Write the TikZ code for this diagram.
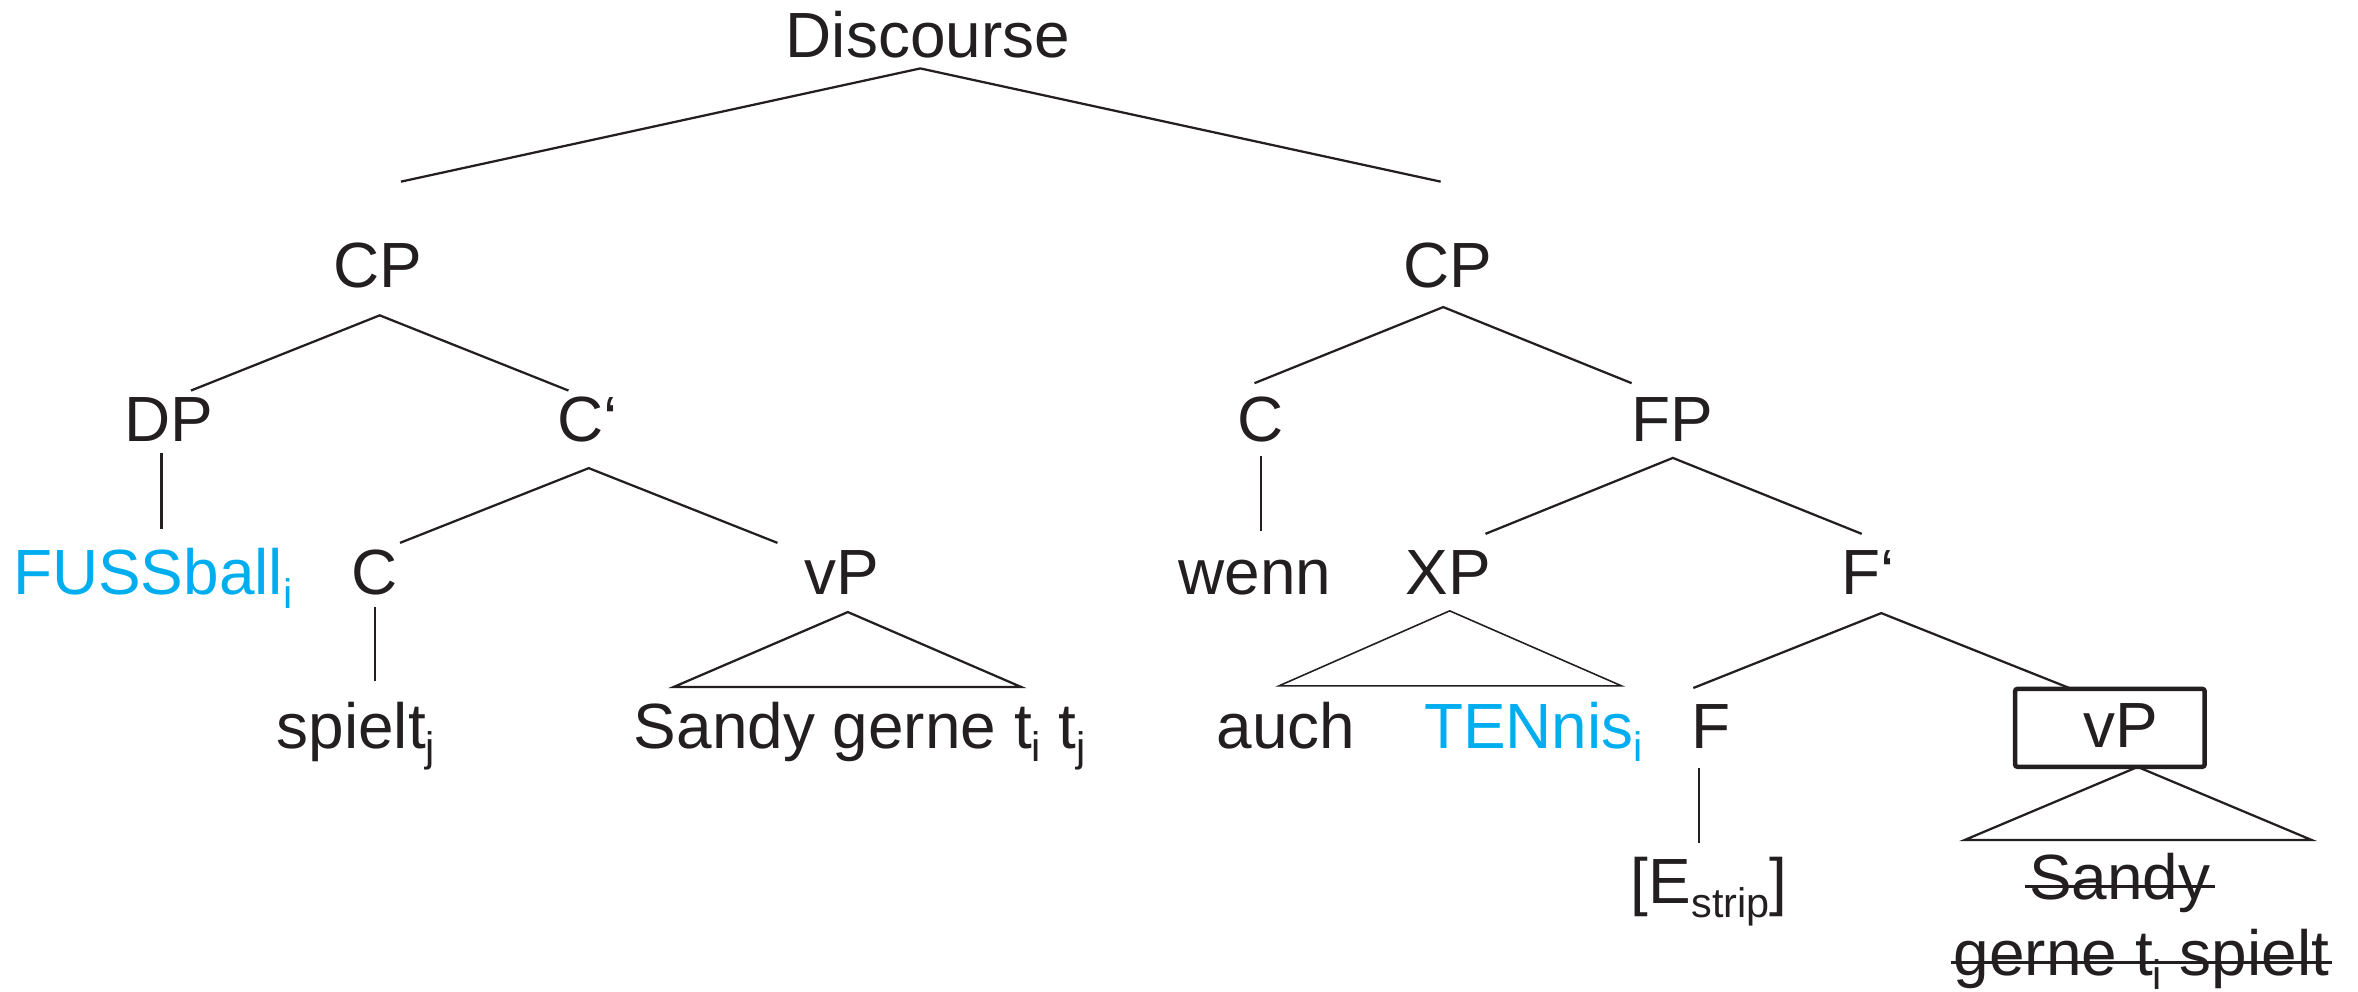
\documentclass[tikz,border=0pt]{standalone}
\usepackage{fontspec}
\setmainfont{Liberation Sans}
\definecolor{ink}{RGB}{35,31,32}
\definecolor{focus}{RGB}{0,174,239}
\newcommand\lowidx[1]{\raisebox{-3.6pt}{\fontsize{11}{11}\selectfont #1}}
\tikzset{
  lbl/.style={inner sep=0pt, anchor=base, text=ink, font=\fontsize{17}{20}\selectfont},
  foc/.style={lbl, text=focus},
  branch/.style={draw=ink, line width=0.6pt, line join=miter},
  thinbranch/.style={draw=ink, line width=0.42pt},
  boxed/.style={draw=ink, line width=1.2pt, rounded corners=0.6pt, inner sep=0pt,
                minimum width=50.4pt, minimum height=20.7pt},
  strike/.style={draw=ink, line width=0.75pt}
}
\begin{document}
\begin{tikzpicture}[x=0.4pt, y=-0.4pt]
\useasboundingbox (0,0) rectangle (1568,659);

% ---------- labels ----------
\node[lbl] (disc)   at (617,38)    {Discourse};
\node[lbl] (cpL)    at (251,191.5) {CP};
\node[lbl] (cpR)    at (963,191.5) {CP};
\node[lbl] (dp)     at (112,293.5) {DP};
\node[lbl] (cbar)   at (391,293.5) {C‘};
\node[lbl] (cR)     at (838,293.5) {C};
\node[lbl] (fp)     at (1112,293.5){FP};
\node[foc] (fuss)   at (101.5,395.6){FUSSball\lowidx{i}};
\node[lbl] (cL)     at (249,395.6) {C};
\node[lbl] (vpL)    at (560,395)   {vP};
\node[lbl] (wenn)   at (834.6,395) {wenn};
\node[lbl] (xp)     at (963,395)   {XP};
\node[lbl] (fbar)   at (1242.5,395.6){F‘};
\node[lbl] (spielt) at (236.7,497.5){spielt\lowidx{j}};
\node[lbl] (sandyL) at (571.8,497.5){Sandy gerne t\lowidx{i} t\lowidx{j}};
\node[lbl] (auch)   at (855,497.5) {auch};
\node[foc] (tennis) at (1019.7,497.5){TENnis\lowidx{i}};
\node[lbl] (f)      at (1137.5,497.5){F};
\node[boxed] (vpR)  at (1403,484)  {};
\node[lbl] (vpRt)   at (1410,497)  {vP};
\node[lbl] (estrip) at (1136.5,601){[E\lowidx{strip}]};
\node[lbl] (sandyR) at (1409.5,598.4){Sandy};
\node[lbl] (gerneR) at (1424,649)  {gerne t\lowidx{i} spielt};

% ---------- branch points ----------
\coordinate (discA) at (612,45.5);
\coordinate (discL) at (266.6,120.8);
\coordinate (discR) at (958,120.8);
\coordinate (cpLA)  at (252.5,209.7);
\coordinate (cpLl)  at (127,259.7);
\coordinate (cpLr)  at (378,259.7);
\coordinate (cpRA)  at (959.7,204.2);
\coordinate (cpRl)  at (834.2,254.8);
\coordinate (cpRr)  at (1085,254.8);
\coordinate (dpT)   at (107.4,301.5);
\coordinate (dpB)   at (107.4,351.5);
\coordinate (cbarA) at (391.5,311.3);
\coordinate (cbarl) at (266,361);
\coordinate (cbarr) at (517,361);
\coordinate (cRT)   at (838.6,303);
\coordinate (cRB)   at (838.6,353);
\coordinate (fpA)   at (1112.4,304.5);
\coordinate (fpl)   at (987.8,355);
\coordinate (fpr)   at (1238,355);
\coordinate (cLT)   at (249.4,403.4);
\coordinate (cLB)   at (249.4,453);
\coordinate (vpLA)  at (563.8,407);
\coordinate (vpLl)  at (448,456.8);
\coordinate (vpLr)  at (679,456.8);
\coordinate (xpA)   at (964,406.2);
\coordinate (xpl)   at (850.4,456.1);
\coordinate (xpr)   at (1078.3,456.1);
\coordinate (fbarA) at (1251,407.7);
\coordinate (fbarl) at (1126,457.5);
\coordinate (fbarr) at (1376,457.5);
\coordinate (fT)    at (1130,510.8);
\coordinate (fB)    at (1130,560.3);
\coordinate (vpRA)  at (1421.5,510);
\coordinate (vpRl)  at (1306.6,558.5);
\coordinate (vpRr)  at (1537,558.5);

% ---------- branches ----------
\draw[branch] (discL) -- (discA) -- (discR);
\draw[branch] (cpLl) -- (cpLA) -- (cpLr);
\draw[branch] (cpRl) -- (cpRA) -- (cpRr);
\draw[branch] (dpT) -- (dpB);
\draw[branch] (cbarl) -- (cbarA) -- (cbarr);
\draw[branch] (cRT) -- (cRB);
\draw[branch] (fpl) -- (fpA) -- (fpr);
\draw[branch] (cLT) -- (cLB);
\draw[branch] (vpLl) -- (vpLA) -- (vpLr) -- cycle;
\draw[thinbranch] (xpl) -- (xpA) -- (xpr) -- cycle;
\draw[branch] (fbarl) -- (fbarA) -- (fbarr);
\draw[branch] (fT) -- (fB);
\draw[branch] (vpRl) -- (vpRA) -- (vpRr) -- cycle;

% ---------- deleted material ----------
\draw[strike] ([xshift=-1pt,yshift=3.5pt]sandyR.base west) -- ([xshift=1pt,yshift=3.5pt]sandyR.base east);
\draw[strike] ([xshift=-0.5pt,yshift=3.6pt]gerneR.base west) -- ([xshift=0.5pt,yshift=3.6pt]gerneR.base east);
\end{tikzpicture}
\end{document}
